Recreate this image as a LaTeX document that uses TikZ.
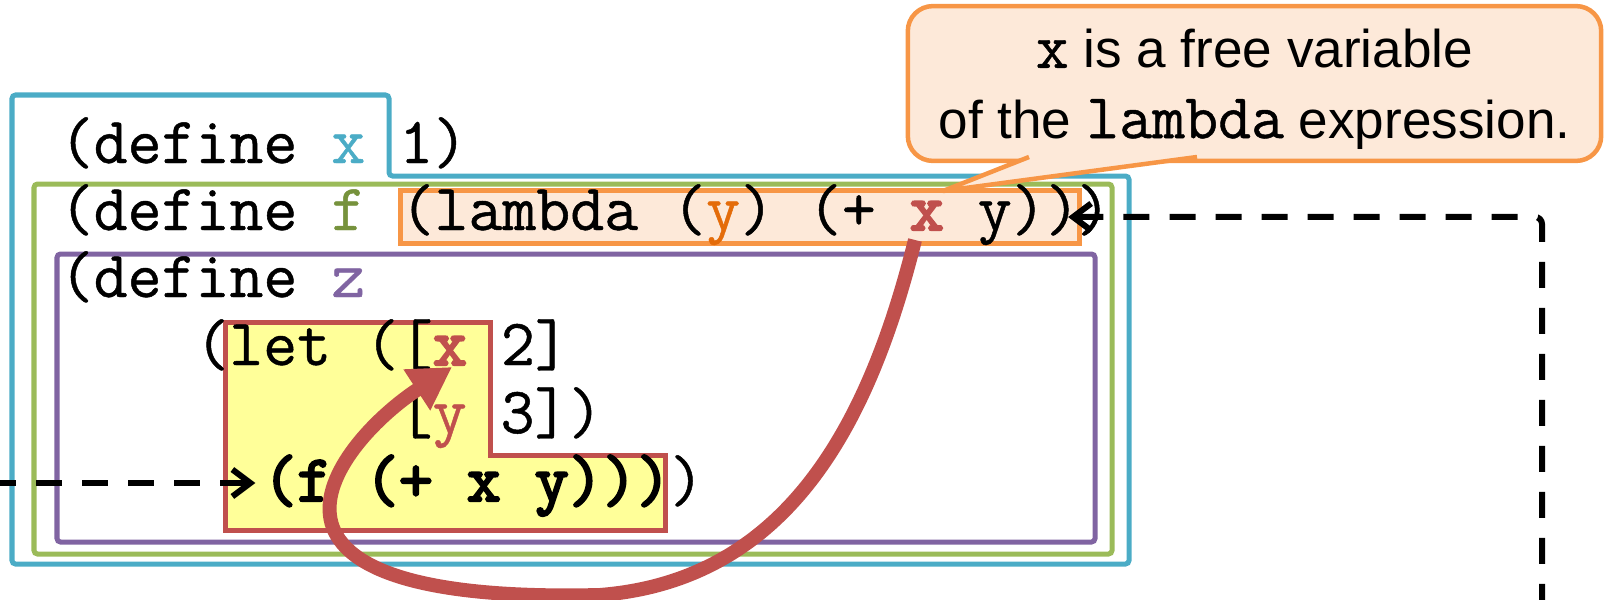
\documentclass[tikz,border=0pt]{standalone}
\usepackage{fontspec}
\setsansfont{Liberation Sans}
\newfontfamily\codefont{lmmono12-regular}[Extension=.otf, FakeBold=0.7, BoldFont=lmmono12-regular, BoldFeatures={FakeBold=3.5}]
\usepackage{xcolor}
\usetikzlibrary{arrows.meta,positioning,calc}

\definecolor{scopex}{RGB}{75,172,198}
\definecolor{scopef}{RGB}{155,187,89}
\definecolor{scopez}{RGB}{128,100,162}
\definecolor{lamline}{RGB}{247,150,70}
\definecolor{lamfill}{RGB}{253,233,217}
\definecolor{letline}{RGB}{192,80,77}
\definecolor{letfill}{RGB}{255,255,153}
\definecolor{namef}{RGB}{118,146,60}
\definecolor{namey}{RGB}{228,108,10}

\newcommand{\cw}{33.9}% one column of code
\newcommand{\lx}{59}% left edge of the code
\newcommand{\ntt}[1]{{\codefont\fontsize{18.2}{20}\selectfont #1}}

\begin{document}
\begin{tikzpicture}[
    x=0.01cm, y=-0.01cm,
    code/.style={anchor=base west, inner sep=0pt, font=\codefont\fontsize{18.75}{22}\selectfont},
    boldcode/.style={code, font=\codefont\bfseries\fontsize{18.75}{22}\selectfont},
    scopebox/.style={line width=0.05cm, rounded corners=1pt},
    lambdabox/.style={code, draw=lamline, fill=lamfill, line width=0.05cm, text height=0.37cm, text depth=0.11cm, inner ysep=0.02cm},
    letbox/.style={draw=letline, fill=letfill, line width=0.05cm},
    note/.style={draw=lamline, fill=lamfill, line width=0.045cm, rounded corners=0.25cm, minimum width=6.93cm, minimum height=1.47cm, align=center, font=\sffamily\fontsize{15.1}{20}\selectfont},
    link/.style={line width=0.06cm, dash pattern=on 0.26cm off 0.2cm, -{Straight Barb[length=0.18cm, width=0.27cm]}},
    bind/.style={draw=letline, line width=0.14cm, -{Triangle[length=0.42cm, width=0.46cm]}},
]
\useasboundingbox (0,0) rectangle (1612,600);

% === SCOPES ===
\draw[scopebox, draw=scopex] (12,95) -- (389,95) -- (389,176) -- (1129,176) -- (1129,564) -- (12,564) -- cycle;
\draw[scopebox, draw=scopef] (34,184) rectangle (1112,554);
\draw[scopebox, draw=scopez] (57,254) rectangle (1095,542);
\draw[letbox] (225,322) -- (490,322) -- (490,455) -- (665,455) -- (665,530) -- (225,530) -- cycle;

% === CODE ===
\node[code] (defx) at (\lx,163) {(define \textcolor{scopex}{x} 1)};
\node[code] (deff) at (\lx,230) {(define \textcolor{namef}{f}};
\node[lambdabox] (lam) at ({\lx+10*\cw},230) {(lambda (\textcolor{namey}{y}) (+ \textcolor{letline}{\textbf{x}} y))};
\node[code] (closef) at ({\lx+30*\cw},230) {)};
\node[code] (defz) at (\lx,297) {(define \textcolor{scopez}{z}};
\node[code] (letx) at ({\lx+4*\cw},365) {(let ([\textcolor{letline}{\textbf{x}} 2]};
\node[code] (lety) at ({\lx+10*\cw},433) {[\textcolor{letline}{y} 3])};
\node[boldcode] (call) at ({\lx+6*\cw},501) {(f (+ x y)))};
\node[code] (closez) at ({\lx+18*\cw},501) {)};

% === CALLOUT ===
\node[note] (note) at (1254.5,83.5) {\rule{0pt}{0.5cm}\ntt{x} is a free variable\\of the \ntt{lambda} expression.};
\coordinate (tip) at (943,191);
\fill[lamfill] (1029,150) -- (1197,150) -- (1197,157) -- (tip) -- (1029,157) -- cycle;
\draw[lamline, line width=0.045cm, line join=round] (1029,157) -- (tip) -- (1197,157);

% === ARROWS ===
\coordinate (entry) at (-10,483);
\coordinate (exit) at (1542,610);
\draw[link] (entry) -- ([xshift=-0.07cm]entry -| call.west);
\draw[link, rounded corners=2pt] (exit) |- ([xshift=-0.14cm]lam.east);

\coordinate (freex) at (915,240);
\coordinate (dip) at (600,595);
\coordinate (boundx) at (452,367);
\draw[bind] (freex) .. controls (870,420) and (790,580) .. (dip) .. controls (200,605) and (340,440) .. (boundx);

\end{tikzpicture}
\end{document}
